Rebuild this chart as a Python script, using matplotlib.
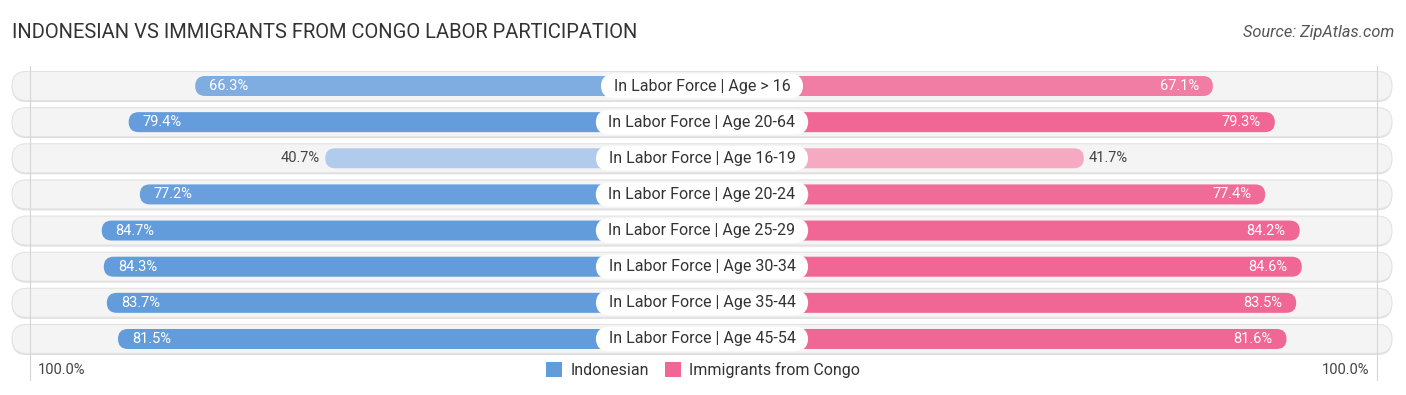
import matplotlib
matplotlib.use("Agg")
import matplotlib.pyplot as plt
from matplotlib.patches import FancyBboxPatch, Patch
import numpy as np

plt.rcParams['font.family'] = ['Roboto', 'DejaVu Sans']

categories = ["In Labor Force | Age > 16", "In Labor Force | Age 20-64",
              "In Labor Force | Age 16-19", "In Labor Force | Age 20-24",
              "In Labor Force | Age 25-29", "In Labor Force | Age 30-34",
              "In Labor Force | Age 35-44", "In Labor Force | Age 45-54"]
indonesian = [66.3, 79.4, 40.7, 77.2, 84.7, 84.3, 83.7, 81.5]
congo = [67.1, 79.3, 41.7, 77.4, 84.2, 84.6, 83.5, 81.6]
series_names = ["Indonesian", "Immigrants from Congo"]

# layout, in pixels of the 1406x395 output
W, H = 1406, 395
PX = 5.08          # px per percent
CX = 702           # center x
ROW0, ROWSTEP = 86, 36.14
OFF = 170 / PX     # bars start under the label box

blue_dark, blue_light = np.array([0.39, 0.61, 0.86]), np.array([0.70, 0.80, 0.93])
pink_dark, pink_light = np.array([0.94, 0.40, 0.58]), np.array([0.96, 0.68, 0.77])

def shade(dark, light, v):
    t = np.clip((v - 40) / 40.0, 0, 1)
    return tuple(light + (dark - light) * t)

fig = plt.figure(figsize=(W / 100, H / 100), dpi=100)
ax = fig.add_axes([0, 0, 1, 1])
ax.set_xlim(-CX / PX, (W - CX) / PX)
ax.set_ylim((H - ROW0) / ROWSTEP, -ROW0 / ROWSTEP)
ax.axis("off")

asp = 1 / (ROWSTEP / PX)
bg_half = 690 / PX
bg_h = 29 / ROWSTEP
bar_h = 20 / ROWSTEP

for i, cat in enumerate(categories):
    # row background with a soft shadow
    ax.add_patch(FancyBboxPatch((-bg_half, i - bg_h / 2 + 1.5 / ROWSTEP), 2 * bg_half, bg_h,
                                boxstyle="round,pad=0,rounding_size=%f" % (14.5 / PX),
                                mutation_aspect=asp, fc="#dedede", ec="none", zorder=1))
    ax.add_patch(FancyBboxPatch((-bg_half, i - bg_h / 2), 2 * bg_half, bg_h,
                                boxstyle="round,pad=0,rounding_size=%f" % (14.5 / PX),
                                mutation_aspect=asp, fc="#f4f4f4", ec="#e3e3e3", lw=0.8, zorder=2))

    a, b = indonesian[i], congo[i]
    ax.add_patch(FancyBboxPatch((-(OFF + a), i - bar_h / 2), OFF + a, bar_h,
                                boxstyle="round,pad=0,rounding_size=%f" % (10 / PX),
                                mutation_aspect=asp, fc=shade(blue_dark, blue_light, a),
                                ec="none", zorder=4))
    ax.add_patch(FancyBboxPatch((0, i - bar_h / 2), OFF + b, bar_h,
                                boxstyle="round,pad=0,rounding_size=%f" % (10 / PX),
                                mutation_aspect=asp, fc=shade(pink_dark, pink_light, b),
                                ec="none", zorder=4))

    if a > 50:
        ax.text(-(OFF + a) + 14 / PX, i, "%.1f%%" % a, ha="left", va="center",
                fontsize=10.5, color="white", zorder=6)
    else:
        ax.text(-(OFF + a) - 5 / PX, i, "%.1f%%" % a, ha="right", va="center",
                fontsize=10.5, color="#444444", zorder=6)
    if b > 50:
        ax.text(OFF + b - 14 / PX, i, "%.1f%%" % b, ha="right", va="center",
                fontsize=10.5, color="white", zorder=6)
    else:
        ax.text(OFF + b + 5 / PX, i, "%.1f%%" % b, ha="left", va="center",
                fontsize=10.5, color="#444444", zorder=6)

    ax.text(0, i, "  " + cat + "  ", ha="center", va="center", fontsize=11.5,
            color="#333333", zorder=7,
            bbox=dict(boxstyle="round,pad=0.3,rounding_size=0.85", fc="white", ec="none"))

# faint guide lines
for gx in (30, 1377):
    ax.plot([(gx - CX) / PX] * 2, [(66 - ROW0) / ROWSTEP, (380 - ROW0) / ROWSTEP],
            color="#d5d5d5", lw=0.8, zorder=3)

leg_y = (370 - ROW0) / ROWSTEP
ax.text((38 - CX) / PX, leg_y, "100.0%", ha="left", va="center", fontsize=10.5, color="#444444")
ax.text((1369 - CX) / PX, leg_y, "100.0%", ha="right", va="center", fontsize=10.5, color="#444444")

handles = [Patch(fc=tuple(blue_dark), ec="none", label=series_names[0]),
           Patch(fc=tuple(pink_dark), ec="none", label=series_names[1])]
fig.legend(handles=handles, loc="center", bbox_to_anchor=(0.5, 1 - 370 / H), ncol=2,
           frameon=False, fontsize=11.5, handlelength=1.0, handleheight=1.0,
           handletextpad=0.5, columnspacing=1.0, labelcolor="#333333")

fig.text(12 / W, 1 - 33 / H, "INDONESIAN VS IMMIGRANTS FROM CONGO LABOR PARTICIPATION",
         ha="left", va="center", fontsize=14.5, color="#333333")
fig.text(1394 / W, 1 - 33 / H, "Source: ZipAtlas.com", ha="right", va="center",
         fontsize=11.8, style="italic", color="#555555")

fig.savefig("out.png", dpi=100)
